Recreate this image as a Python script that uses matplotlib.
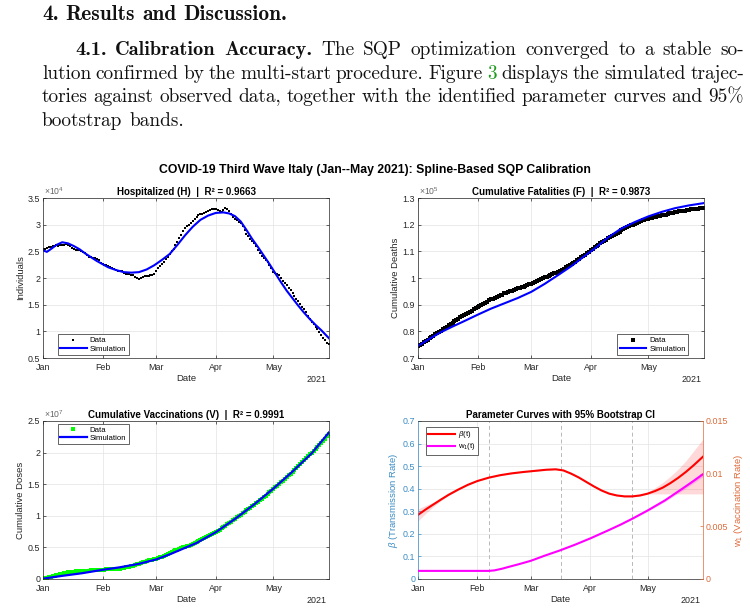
import numpy as np
import matplotlib
matplotlib.use("Agg")
import matplotlib.pyplot as plt
import matplotlib.dates as mdates
from matplotlib.ticker import FuncFormatter, MultipleLocator

plt.rcParams['font.family'] = ['Liberation Sans', 'DejaVu Sans']
plt.rcParams['mathtext.fontset'] = 'custom'
plt.rcParams['mathtext.rm'] = 'Liberation Sans'
plt.rcParams['mathtext.it'] = 'Liberation Sans:italic'
plt.rcParams['mathtext.bf'] = 'Liberation Sans:bold'

# ---------------- data ----------------
start_date = '2021-01-01'
x_end_day = 149
month_labels_year = '2021'

hosp_data = [2.54, 2.55, 2.57, 2.58, 2.59, 2.60, 2.60, 2.61, 2.60, 2.61, 2.62,
             2.62, 2.63, 2.62, 2.60, 2.57, 2.54, 2.53, 2.53, 2.52, 2.51,
             2.49, 2.46, 2.43, 2.40, 2.39, 2.38, 2.37, 2.36, 2.33, 2.29,
             2.26, 2.25, 2.25, 2.23, 2.20, 2.18, 2.17, 2.15, 2.14, 2.13,
             2.14, 2.10, 2.08, 2.07, 2.07, 2.06, 2.05, 2.02, 2.00, 1.98,
             2.00, 2.02, 2.03, 2.04, 2.04, 2.05, 2.06, 2.08, 2.13, 2.18,
             2.22, 2.26, 2.30, 2.35, 2.40, 2.45, 2.50, 2.55, 2.62, 2.68,
             2.75, 2.81, 2.88, 2.94, 2.98, 3.00, 3.04, 3.07, 3.10, 3.15,
             3.18, 3.20, 3.20, 3.21, 3.23, 3.25, 3.28, 3.30, 3.30, 3.29,
             3.27, 3.25, 3.24, 3.28, 3.31, 3.30, 3.26, 3.20, 3.14, 3.10,
             3.08, 3.05, 3.03, 2.98, 2.90, 2.82, 2.78, 2.74, 2.70, 2.66,
             2.60, 2.52, 2.47, 2.42, 2.38, 2.34, 2.30, 2.25, 2.18, 2.12,
             2.10, 2.08, 2.06, 2.00, 1.94, 1.90, 1.86, 1.81, 1.77, 1.72,
             1.66, 1.61, 1.56, 1.51, 1.46, 1.42, 1.37, 1.28, 1.23, 1.18,
             1.14, 1.09, 1.04, 0.99, 0.93, 0.88, 0.83, 0.79, 0.76]
hosp_sim_days = [0, 2, 4, 7, 10, 13, 16, 19, 22, 25, 28, 31, 34, 38, 42, 46, 50, 54,
                 58, 62, 66, 70, 74, 78, 82, 86, 90, 94, 97, 100, 103, 106, 109,
                 112, 115, 118, 121, 124, 127, 130, 133, 136, 139, 142, 145, 149]
hosp_sim = [2.52, 2.49, 2.54, 2.62, 2.67, 2.65, 2.60, 2.54, 2.46, 2.39, 2.32, 2.26,
            2.20, 2.15, 2.11, 2.10, 2.11, 2.16, 2.24, 2.34, 2.45, 2.62, 2.80, 2.96,
            3.09, 3.17, 3.22, 3.23, 3.21, 3.16, 3.06, 2.90, 2.73, 2.58, 2.42, 2.26,
            2.09, 1.92, 1.76, 1.62, 1.48, 1.35, 1.23, 1.12, 1.02, 0.87]
hosp_scale = 1e4

fat_data = [0.744, 0.749, 0.754, 0.759, 0.764, 0.769, 0.774, 0.779, 0.784, 0.789, 0.793, 0.798, 0.803,
            0.808, 0.813, 0.818, 0.823, 0.828, 0.833, 0.838, 0.842, 0.847,
            0.852, 0.856, 0.861, 0.865, 0.869, 0.874, 0.878, 0.882, 0.887, 0.891,
            0.895, 0.899, 0.903, 0.907, 0.911, 0.916, 0.920,
            0.923, 0.926, 0.929, 0.932, 0.935, 0.938, 0.942, 0.945, 0.948,
            0.951, 0.953, 0.956, 0.958, 0.961, 0.963, 0.966, 0.968, 0.971, 0.974, 0.976, 0.979,
            0.982, 0.986, 0.989, 0.993, 0.996,
            0.999, 1.002, 1.005, 1.008, 1.011, 1.014, 1.017, 1.020, 1.023,
            1.027, 1.031, 1.035, 1.040, 1.044, 1.048, 1.052, 1.057, 1.061,
            1.066, 1.072, 1.077, 1.083, 1.088, 1.094, 1.099, 1.105,
            1.110, 1.115, 1.120, 1.125, 1.130, 1.135, 1.140, 1.144, 1.149,
            1.153, 1.158, 1.162, 1.166, 1.170, 1.174, 1.179, 1.183, 1.187,
            1.190, 1.194, 1.197, 1.200, 1.203, 1.207, 1.210, 1.213, 1.216,
            1.218, 1.220, 1.222, 1.224, 1.226, 1.227, 1.229, 1.231,
            1.233, 1.235, 1.236, 1.238, 1.240, 1.242, 1.244, 1.245, 1.247,
            1.248, 1.250, 1.251, 1.252, 1.253, 1.254, 1.256, 1.257, 1.258,
            1.259, 1.260, 1.260, 1.261, 1.262, 1.262]
fat_sim_days = [0, 6, 12, 18, 24, 31, 38, 45, 52, 59, 66, 73, 80, 86, 92, 99, 106,
                113, 120, 127, 134, 141, 149]
fat_sim = [0.745, 0.772, 0.797, 0.818, 0.838, 0.862, 0.885, 0.905, 0.925, 0.948,
           0.978, 1.011, 1.045, 1.078, 1.110, 1.152, 1.186, 1.210, 1.231, 1.248,
           1.262, 1.272, 1.281]
fat_scale = 1e5

vac_data = [0.010, 0.015, 0.022, 0.030, 0.038, 0.046, 0.054, 0.062, 0.070, 0.078, 0.085, 0.092, 0.098,
            0.104, 0.109, 0.113, 0.117, 0.120, 0.122, 0.124, 0.126,
            0.128, 0.130, 0.132, 0.134, 0.136, 0.138, 0.139, 0.141, 0.143, 0.145, 0.147,
            0.149, 0.151, 0.152, 0.154, 0.156, 0.157, 0.159, 0.162, 0.166,
            0.171, 0.177, 0.183, 0.190, 0.197, 0.204, 0.211, 0.220, 0.230, 0.241,
            0.252, 0.263, 0.274, 0.284, 0.293, 0.301, 0.308, 0.314, 0.320,
            0.330, 0.342, 0.355, 0.368, 0.382, 0.396, 0.410, 0.424, 0.438, 0.452, 0.466,
            0.478, 0.489, 0.499, 0.508, 0.517, 0.527, 0.538, 0.550, 0.563, 0.578,
            0.594, 0.611, 0.629, 0.647, 0.665, 0.684, 0.703, 0.718, 0.733, 0.748,
            0.765, 0.783, 0.802, 0.822, 0.843, 0.864, 0.886, 0.908, 0.930, 0.952,
            0.974, 0.996, 1.018, 1.040, 1.062, 1.085, 1.108, 1.131, 1.154, 1.177,
            1.200, 1.224, 1.248, 1.272, 1.296, 1.321, 1.346, 1.371, 1.397, 1.423,
            1.449, 1.475, 1.502, 1.529, 1.556, 1.583, 1.611, 1.639, 1.667, 1.695,
            1.724, 1.755, 1.786, 1.817, 1.848, 1.879, 1.910, 1.941, 1.972, 2.000,
            2.025, 2.058, 2.091, 2.124, 2.157, 2.190, 2.223, 2.256, 2.289]
vac_sim_days = [0, 10, 20, 31, 40, 50, 59, 66, 73, 80, 90, 100, 110, 120, 130, 140, 149]
vac_sim = [0.005, 0.050, 0.090, 0.145, 0.185, 0.240, 0.310, 0.390, 0.480, 0.570,
           0.740, 0.950, 1.180, 1.430, 1.700, 1.990, 2.320]
vac_scale = 1e7

beta_days = [0, 4, 8, 12, 16, 21, 26, 31, 37, 43, 49, 55, 61, 67, 72, 76, 80, 84, 88,
             92, 96, 100, 104, 108, 112, 116, 120, 124, 128, 132, 136, 140, 144, 149]
beta_val = [0.284, 0.308, 0.330, 0.352, 0.373, 0.396, 0.417, 0.434, 0.449, 0.460, 0.468,
            0.474, 0.479, 0.484, 0.486, 0.481, 0.467, 0.450, 0.430, 0.410, 0.392, 0.378,
            0.370, 0.366, 0.366, 0.370, 0.378, 0.390, 0.405, 0.425, 0.448, 0.474, 0.503, 0.542]
beta_lo = [0.257, 0.290, 0.320, 0.347, 0.370, 0.394, 0.415, 0.432, 0.447, 0.458, 0.466,
           0.472, 0.477, 0.482, 0.484, 0.479, 0.465, 0.448, 0.428, 0.408, 0.390, 0.376,
           0.368, 0.364, 0.364, 0.367, 0.376, 0.377, 0.377, 0.377, 0.377, 0.377, 0.377, 0.377]
beta_hi = [0.311, 0.326, 0.340, 0.357, 0.376, 0.398, 0.419, 0.436, 0.451, 0.462, 0.470,
           0.476, 0.481, 0.486, 0.488, 0.483, 0.469, 0.452, 0.432, 0.412, 0.394, 0.380,
           0.372, 0.368, 0.368, 0.373, 0.384, 0.405, 0.428, 0.455, 0.487, 0.523, 0.566, 0.620]
w1_days = [0, 10, 20, 30, 37, 40, 44, 47, 53, 59, 66, 74, 82, 90, 99, 106, 112, 120,
           129, 138, 144, 149]
w1_val = [0.77, 0.77, 0.77, 0.77, 0.77, 0.82, 0.98, 1.13, 1.42, 1.73, 2.20, 2.70, 3.25,
          3.85, 4.58, 5.17, 5.72, 6.50, 7.45, 8.55, 9.30, 9.95]
w1_lo = [0.75, 0.75, 0.75, 0.75, 0.75, 0.80, 0.96, 1.11, 1.40, 1.71, 2.18, 2.68, 3.23,
         3.83, 4.56, 5.14, 5.68, 6.42, 7.33, 8.38, 9.10, 9.72]
w1_hi = [0.79, 0.79, 0.79, 0.79, 0.79, 0.84, 1.00, 1.15, 1.44, 1.75, 2.22, 2.72, 3.27,
         3.87, 4.60, 5.20, 5.76, 6.58, 7.57, 8.72, 9.50, 10.18]
w1_scale = 1e-3
knot_days = [37.25, 74.5, 111.75]

# ---------------- figure ----------------
W, H = 750, 610
fig = plt.figure(figsize=(W / 100, H / 100), dpi=100)
renderer = fig.canvas.get_renderer()

# ---- paper text (justified) ----
body_size = 13.9
bold_size = 14.6
head_size = 15.4
body_col = '#111111'


def place_line(tokens, x0, x1, ybase, justify=True):
    texts = []
    for s, fam, col, size in tokens:
        texts.append(fig.text(0, 1 - ybase / H, s, fontsize=size, family=fam,
                              color=col, va='baseline', ha='left'))
    widths = [t.get_window_extent(renderer).width for t in texts]
    if justify and len(texts) > 1:
        gap = (x1 - x0 - sum(widths)) / (len(texts) - 1)
    else:
        gap = body_size * 100 / 72 * 0.36
    x = x0
    for t, w in zip(texts, widths):
        t.set_x(x / W)
        x += w + gap


def toks(s, fam='cmr10', col=body_col, size=None):
    if size is None:
        size = bold_size if fam == 'cmb10' else body_size
    return [(w, fam, col, size) for w in s.split()]


place_line(toks('4. Results and Discussion.', 'cmb10', size=head_size), 42, 0, 20, justify=False)
place_line(toks('4.1. Calibration Accuracy.', 'cmb10') +
           toks('The SQP optimization converged to a stable so-'), 75, 744, 55)
place_line(toks('lution confirmed by the multi-start procedure. Figure') +
           [('3', 'cmr10', '#1f9a1f', body_size)] +
           toks('displays the simulated trajec-'), 42, 744, 79)
place_line(toks('tories against observed data, together with the identified parameter curves and 95%'),
           42, 744, 102)
place_line(toks('bootstrap bands.'), 42, 0, 126, justify=False)

fig.text(0.5, 1 - 170 / H,
         'COVID-19 Third Wave Italy (Jan--May 2021): Spline-Based SQP Calibration',
         ha='center', va='center', fontsize=8.8, fontweight='bold', color='black')

# ---- axes ----
AX_COL = '#262626'
GRID = '#e3e3e3'
TICK_FS = 6.4
LABEL_FS = 6.8
d0 = mdates.date2num(np.datetime64(start_date))


def to_num(days):
    return d0 + np.asarray(days, dtype=float)


def make_ax(x0, x1, ytop, ybot):
    return fig.add_axes([x0 / W, 1 - ybot / H, (x1 - x0) / W, (ybot - ytop) / H])


def style(ax, mirror=True):
    ax.set_xlim(to_num([0, x_end_day]))
    ax.xaxis.set_major_locator(mdates.MonthLocator())
    ax.xaxis.set_major_formatter(mdates.DateFormatter('%b'))
    ax.tick_params(direction='in', length=2.5, width=0.5, colors=AX_COL,
                   labelsize=TICK_FS, top=mirror, right=mirror)
    ax.tick_params(axis='x', pad=3.5)
    ax.tick_params(axis='y', pad=2)
    for sp in ax.spines.values():
        sp.set_linewidth(0.5)
        sp.set_color(AX_COL)
    ax.grid(True, color=GRID, lw=0.5)
    ax.set_axisbelow(True)
    ax.yaxis.set_major_formatter(FuncFormatter(lambda v, p: '%g' % round(v, 6)))
    ax.set_xlabel('Date', fontsize=LABEL_FS, color=AX_COL, labelpad=1.5)
    ax.text(0.99, -0.108, month_labels_year, transform=ax.transAxes, ha='right',
            va='top', fontsize=TICK_FS, color=AX_COL)


def exp_label(ax, e):
    ax.text(0.005, 1.004, r'$\times10^{%d}$' % e, transform=ax.transAxes,
            ha='left', va='bottom', fontsize=6.2, color='#666666')


def legend(ax, handles, labels, loc, anchor):
    lg = ax.legend(handles, labels, loc=loc, bbox_to_anchor=anchor, borderaxespad=0,
                   fontsize=5.6, fancybox=False, edgecolor=AX_COL, framealpha=1,
                   handlelength=3.4, handletextpad=0.4, labelspacing=0.12,
                   borderpad=0.3)
    lg.get_frame().set_linewidth(0.5)
    return lg


title_kw = dict(fontsize=7.0, fontweight='bold', pad=2.5)

# Hospitalized
ax1 = make_ax(43, 329, 198, 358)
style(ax1)
hd = np.array(hosp_data) * hosp_scale
d1, = ax1.plot(to_num(np.arange(len(hd))), hd / hosp_scale, 's', color='black',
               ms=1.8, mew=0, ls='none')
s1, = ax1.plot(to_num(hosp_sim_days), np.array(hosp_sim), color='#0000ff', lw=1.5)
ax1.set_ylim(0.5, 3.5)
ax1.yaxis.set_major_locator(MultipleLocator(0.5))
ax1.set_title('Hospitalized (H)  |  R² = 0.9663', **title_kw)
ax1.set_ylabel('Individuals', fontsize=LABEL_FS, color=AX_COL, labelpad=2)
exp_label(ax1, 4)
legend(ax1, [d1, s1], ['Data', 'Simulation'], 'lower left', (0.052, 0.019))

# Fatalities
ax2 = make_ax(418, 704, 198, 358)
style(ax2)
d2, = ax2.plot(to_num(np.arange(len(fat_data))), np.array(fat_data), 's', color='black',
               ms=2.3, mew=0, ls='none')
s2, = ax2.plot(to_num(fat_sim_days), np.array(fat_sim), color='#0000ff', lw=1.5)
ax2.set_ylim(0.7, 1.3)
ax2.yaxis.set_major_locator(MultipleLocator(0.1))
ax2.set_title('Cumulative Fatalities (F)  |  R² = 0.9873', **title_kw)
ax2.set_ylabel('Cumulative Deaths', fontsize=LABEL_FS, color=AX_COL, labelpad=2)
exp_label(ax2, 5)
legend(ax2, [d2, s2], ['Data', 'Simulation'], 'lower right', (0.944, 0.019))

# Vaccinations
ax3 = make_ax(43, 329, 421, 579)
style(ax3)
d3, = ax3.plot(to_num(np.arange(len(vac_data))), np.array(vac_data), 's', color='#00ff00',
               ms=2.6, mew=0, ls='none')
s3, = ax3.plot(to_num(vac_sim_days), np.array(vac_sim), color='#0000ff', lw=1.6)
ax3.set_ylim(0, 2.5)
ax3.yaxis.set_major_locator(MultipleLocator(0.5))
ax3.set_title('Cumulative Vaccinations (V)  |  R² = 0.9991', **title_kw)
ax3.set_ylabel('Cumulative Doses', fontsize=LABEL_FS, color=AX_COL, labelpad=2)
exp_label(ax3, 7)
legend(ax3, [d3, s3], ['Data', 'Simulation'], 'upper left', (0.052, 0.981))

# Parameter curves
LEFT_C = '#3a8cc4'
RIGHT_C = '#dd6a3a'
ax4 = make_ax(418, 703, 421, 579)
style(ax4, mirror=False)
ax4.tick_params(axis='x', top=False)
ax4.tick_params(axis='y', colors=LEFT_C, right=False)
ax4.spines['left'].set_color(LEFT_C)
ax4.spines['right'].set_visible(False)
ax4.set_ylim(0, 0.7)
ax4.yaxis.set_major_locator(MultipleLocator(0.1))
for k in knot_days:
    ax4.axvline(to_num([k])[0], color='#b8b8b8', lw=0.7, ls=(0, (4, 3)))
ax4.fill_between(to_num(beta_days), beta_lo, beta_hi, color='#ff0000', alpha=0.15, lw=0)
b_line, = ax4.plot(to_num(beta_days), beta_val, color='#ff0000', lw=1.5)
ax4.set_ylabel(r'$\beta$ (Transmission Rate)', fontsize=LABEL_FS, color=LEFT_C, labelpad=2)
ax4.set_title('Parameter Curves with 95% Bootstrap CI', **title_kw)

ax5 = ax4.twinx()
ax5.set_xlim(ax4.get_xlim())
ax5.set_ylim(0, 0.015)
ax5.set_yticks([0, 0.005, 0.01, 0.015])
ax5.yaxis.set_major_formatter(FuncFormatter(lambda v, p: '%g' % round(v, 6)))
ax5.tick_params(axis='y', direction='in', length=2.5, width=0.5, colors=RIGHT_C,
                labelsize=TICK_FS, pad=2)
for nm, sp in ax5.spines.items():
    sp.set_visible(nm == 'right')
ax5.spines['right'].set_color(RIGHT_C)
ax5.spines['right'].set_linewidth(0.5)
ax5.fill_between(to_num(w1_days), np.array(w1_lo) * w1_scale, np.array(w1_hi) * w1_scale,
                 color='#ff00ff', alpha=0.2, lw=0)
w_line, = ax5.plot(to_num(w1_days), np.array(w1_val) * w1_scale, color='#ff00ff', lw=1.5)
ax5.set_ylabel(r'w$_1$ (Vaccination Rate)', fontsize=LABEL_FS, color=RIGHT_C, labelpad=3)
ax4.spines['top'].set_visible(True)
ax4.spines['bottom'].set_color(AX_COL)
ax4.spines['top'].set_color(AX_COL)
ax4.tick_params(axis='x', colors=AX_COL)

legend(ax5, [b_line, w_line], [r'$\beta$(t)', r'w$_1$(t)'], 'upper left', (0.028, 0.962))

fig.savefig('out.png', dpi=100)
